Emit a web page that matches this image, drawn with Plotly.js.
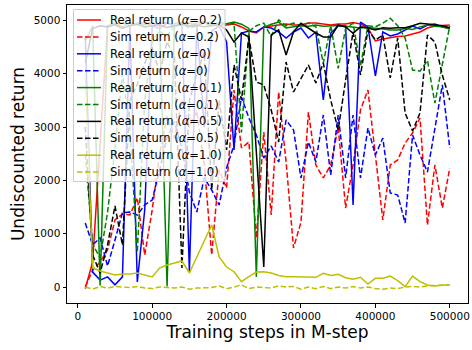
<!DOCTYPE html>
<html>
<head>
<meta charset="utf-8">
<script src="https://cdn.plot.ly/plotly-3.0.1.min.js"></script>
<style>html,body{margin:0;padding:0;background:#fff}#chart{width:472px;height:350px}</style>
</head>
<body>
<div id="chart"></div>
<script>
const steps = [10000,20000,30000,40000,50000,60000,70000,80000,90000,100000,
  110000,120000,130000,140000,150000,160000,170000,180000,190000,200000,
  210000,220000,230000,240000,250000,260000,270000,280000,290000,300000,
  310000,320000,330000,340000,350000,360000,370000,380000,390000,400000,
  410000,420000,430000,440000,450000,460000,470000,480000,490000,500000];

const realA02 = [-30,470,2700,4900,4950,4880,4960,4920,4970,4900,
  4940,4960,4890,4930,4950,4910,4960,4940,4920,4915,
  4934,4878,4803,4765,4878,4896,4915,4934,4915,4915,
  4953,4953,4934,4915,4934,4934,4962,4934,4859,4615,
  4652,4681,4700,4709,4746,4784,4859,4896,4906,4915];
const simA02 = [0,320,470,694,1257,1370,1350,1670,600,1445,
  2500,3200,2800,3500,3000,3300,2300,600,2195,1857,
  3696,2608,2720,919,2908,1351,3658,2345,732,1219,
  3283,2289,2045,2289,3002,1482,2289,3321,3696,2476,
  1257,2289,2383,2701,2889,3170,1163,2289,1482,2232];
const realA0 = [4700,280,130,190,40,190,4900,95,1450,4900,
  4850,4950,4900,4920,280,4900,3000,4800,4900,4596,
  2570,4765,4803,4784,4878,4859,4784,4671,4784,4859,
  4671,4784,3508,4765,4896,4896,1538,4971,4878,3958,
  4784,4709,4746,4821,4896,4840,4915,4934,4878,4859];
const simA0 = [1200,790,920,394,882,1390,1407,1350,1540,1632,
  2195,2800,3100,2600,1782,1407,2045,1820,1538,2232,
  2664,3564,3170,2852,2420,2645,2345,3133,2946,2045,
  2720,2345,3227,2101,3227,2045,3227,2045,2983,2476,
  2795,1763,1726,1200,2852,2476,2157,2946,3790,2608];
const realA01 = [4600,4900,30,4900,4930,4960,4900,4950,4920,4960,
  4900,10,4940,4970,4900,4950,4980,4920,4960,4940,
  4970,4930,4850,190,4870,4930,4970,4860,4880,4900,
  4890,4915,4890,4900,4905,4890,4880,4860,4870,4860,
  4840,4820,4820,4850,4830,4880,4915,4890,4880,4840];
const simA01 = [2500,800,550,1400,2600,4000,3000,650,3500,4600,
  4800,4700,4900,4950,4850,4900,4950,4900,4950,4920,
  4950,2900,4800,4900,4950,4700,5010,4900,4950,4900,
  4950,4880,4200,4900,4100,4850,4950,4150,4900,4880,
  4950,5040,4900,4670,4070,4050,4250,3450,4150,4900];
const realA05 = [4200,4850,4900,4880,4920,4850,4900,4930,4880,4900,
  4920,4870,4900,4930,4890,4910,4880,4900,4920,4821,
  4596,4765,4690,2532,375,4727,4821,4352,4790,4946,
  4852,4765,4690,4690,4915,4878,4760,4880,4859,4821,
  4865,4852,4865,4865,4902,4946,4934,4915,4902,4865];
const simA05 = [3000,600,263,790,1520,790,3500,3800,4200,4500,
  4000,4600,4300,356,3500,4000,4400,1820,3500,2570,
  4165,3508,4671,3846,3790,3321,2720,4221,3658,3921,
  4165,3827,4202,3508,2946,3883,4784,3977,4821,4634,
  4727,3921,4671,3264,2927,3264,4727,4596,3977,3508];
const realA10 = [4000,356,300,263,225,244,244,263,225,188,
  356,413,450,488,263,563,882,1163,563,375,
  287,100,193,281,287,263,216,193,193,193,
  188,182,257,216,238,174,144,182,56,163,
  163,206,118,6,206,100,38,19,38,38];
const simA10 = [0,-40,10,-20,10,0,-10,10,-20,-30,
  0,-10,-20,0,-40,-20,-10,-10,20,-30,
  0,40,-30,0,-10,-20,20,0,10,-40,
  0,-30,10,-30,0,-20,10,-20,0,-30,
  -40,-20,-30,0,10,0,20,30,40,40];

const alphas = ['0.2','0','0.1','0.5','1.0'];
const colors = ['#ff0000','#0000ff','#008000','#000000','#bfbf00'];
const realSeries = [realA02, realA0, realA01, realA05, realA10];
const simSeries = [simA02, simA0, simA01, simA05, simA10];
const xTicks = [0,100000,200000,300000,400000,500000];
const yTicks = [0,1000,2000,3000,4000,5000];

const DASH = '5.5px,2.5px';
const traces = [];
const entries = [];
for (let i = 0; i < alphas.length; i++) {
  const rn = 'Real return (<i>α</i>=' + alphas[i] + ')';
  const sn = 'Sim return (<i>α</i>=' + alphas[i] + ')';
  traces.push({x: steps, y: realSeries[i], type: 'scatter', mode: 'lines', name: rn,
    line: {color: colors[i], width: 1.5}});
  traces.push({x: steps, y: simSeries[i], type: 'scatter', mode: 'lines', name: sn,
    line: {color: colors[i], width: 1.5, dash: DASH}});
  entries.push({name: rn, color: colors[i], dash: 'solid'});
  entries.push({name: sn, color: colors[i], dash: DASH});
}

// plot-area geometry (pixels) used to place a matplotlib-style legend
const W = 472, H = 350, ML = 67, MR = 4, MT = 5, MB = 47;
const PW = W - ML - MR, PH = H - MT - MB;
const px = v => (v - ML) / PW;
const py = v => (MT + PH - v) / PH;
const shapes = [{type: 'rect', xref: 'paper', yref: 'paper', layer: 'above',
  x0: px(73.5), x1: px(225), y0: py(181.5), y1: py(9.5),
  fillcolor: 'rgba(255,255,255,0.8)', line: {color: '#cccccc', width: 1}}];
const annotations = [];
entries.forEach((e, j) => {
  const cy = 20 + j * 16.9;
  shapes.push({type: 'line', xref: 'paper', yref: 'paper', layer: 'above',
    x0: px(77), x1: px(101), y0: py(cy), y1: py(cy),
    line: {color: e.color, width: 1.5, dash: e.dash}});
  annotations.push({xref: 'paper', yref: 'paper', x: px(108), y: py(cy),
    xanchor: 'left', yanchor: 'middle', showarrow: false, text: e.name,
    font: {family: 'DejaVu Sans, sans-serif', size: 11.5, color: '#000'}});
});

const font = 'DejaVu Sans, sans-serif';
const layout = {
  width: W, height: H,
  margin: {l: ML, r: MR, t: MT, b: MB},
  paper_bgcolor: '#fff', plot_bgcolor: '#fff',
  font: {family: font, size: 10.5, color: '#000'},
  showlegend: false,
  shapes: shapes, annotations: annotations,
  xaxis: {range: [-14500, 524500], tickvals: xTicks, tickformat: 'd',
    ticks: 'outside', ticklen: 3.5, tickcolor: '#000', showgrid: false, zeroline: false,
    showline: true, mirror: true, linecolor: '#000', linewidth: 1,
    tickfont: {family: font, size: 10.5},
    title: {text: 'Training steps in M-step', font: {family: font, size: 17}, standoff: 4}},
  yaxis: {range: [-300, 5290], tickvals: yTicks, tickformat: 'd',
    ticks: 'outside', ticklen: 3.5, tickcolor: '#000', showgrid: false, zeroline: false,
    showline: true, mirror: true, linecolor: '#000', linewidth: 1,
    tickfont: {family: font, size: 10.5},
    title: {text: 'Undiscounted return', font: {family: font, size: 17}, standoff: 4}}
};
Plotly.newPlot('chart', traces, layout, {displayModeBar: false, staticPlot: true});
</script>
</body>
</html>
